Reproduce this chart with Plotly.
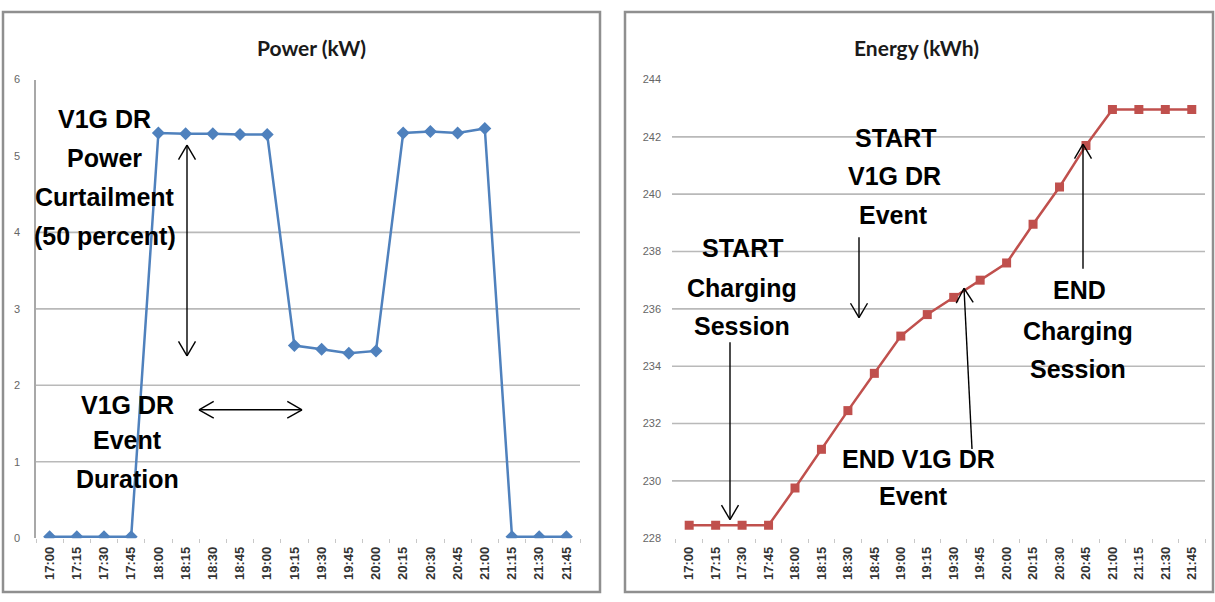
import math
import plotly.graph_objects as go

# ---------------- data ----------------
times = ["17:00", "17:15", "17:30", "17:45", "18:00", "18:15", "18:30", "18:45",
         "19:00", "19:15", "19:30", "19:45", "20:00", "20:15", "20:30", "20:45",
         "21:00", "21:15", "21:30", "21:45"]
power_kw = [0.02, 0.02, 0.02, 0.02, 5.30, 5.29, 5.29, 5.28, 5.28, 2.52, 2.47, 2.42,
            2.45, 5.30, 5.32, 5.30, 5.36, 0.02, 0.02, 0.02]
energy_kwh = [228.45, 228.45, 228.45, 228.45, 229.75, 231.10, 232.45, 233.75,
              235.05, 235.80, 236.40, 237.00, 237.60, 238.95, 240.25, 241.70,
              242.95, 242.95, 242.95, 242.95]
power_ticks = [0, 1, 2, 3, 4, 5, 6]
power_grid = [1, 2, 3, 4]
energy_ticks = [228, 230, 232, 234, 236, 238, 240, 242, 244]
energy_grid = [230, 232, 234, 236, 238, 240, 242]

W, H = 1215, 602


def px(x):
    return x / W


def py(y):
    return 1 - y / H


BLUE = "#4F81BD"
RED = "#C0504D"
GRID = "#b9b9b9"
TXT_FONT = "Liberation Sans, Arial, sans-serif"
TITLE_FONT = "Lato, sans-serif"

fig = go.Figure()
fig.add_trace(go.Scatter(x=times, y=power_kw, mode="lines+markers",
                         line=dict(color=BLUE, width=2.5),
                         marker=dict(symbol="diamond", size=10, color=BLUE),
                         xaxis="x", yaxis="y", showlegend=False))
fig.add_trace(go.Scatter(x=times, y=energy_kwh, mode="lines+markers",
                         line=dict(color=RED, width=2.5),
                         marker=dict(symbol="square", size=9, color=RED),
                         xaxis="x2", yaxis="y2", showlegend=False))

tickfont_x = dict(family=TXT_FONT, size=13, color="#333333", weight="bold")
tickfont_y = dict(family=TXT_FONT, size=11, color="#666666")

fig.update_layout(
    width=W, height=H,
    margin=dict(l=0, r=0, t=0, b=0),
    paper_bgcolor="white", plot_bgcolor="rgba(0,0,0,0)",
    xaxis=dict(domain=[px(36), px(580)], type="category", range=[-0.5, 19.5],
               showgrid=False, zeroline=False, showline=False,
               ticks="outside", ticklen=4, tickcolor="#c8c8c8", tickson="boundaries",
               tickangle=-90, tickfont=tickfont_x, ticklabelstandoff=5),
    yaxis=dict(domain=[py(543), py(75)], range=[0, 6], tickvals=power_ticks,
               showgrid=False, zeroline=False, showline=True, linecolor="#a8a8a8",
               linewidth=1.5, ticks="", tickfont=tickfont_y, ticklabelstandoff=12),
    xaxis2=dict(domain=[px(672), px(1205)], type="category", range=[-0.65, 19.5],
                anchor="y2",
                showgrid=False, zeroline=False, showline=False,
                ticks="outside", ticklen=4, tickcolor="#c8c8c8", tickson="boundaries",
                tickangle=-90, tickfont=tickfont_x, ticklabelstandoff=5),
    yaxis2=dict(domain=[py(543), py(75)], range=[228, 244], tickvals=energy_ticks,
                anchor="x2",
                showgrid=False, zeroline=False, showline=False, ticks="",
                tickfont=tickfont_y, ticklabelstandoff=10),
)

shapes = []
# panel borders
for x0, x1 in [(3, 600), (625, 1213)]:
    shapes.append(dict(type="rect", xref="paper", yref="paper",
                       x0=px(x0), x1=px(x1), y0=py(598), y1=py(6),
                       line=dict(color="#8f8f8f", width=2.5), layer="below"))
# gridlines
for v in power_grid:
    shapes.append(dict(type="line", xref="x domain", yref="y", x0=0, x1=1, y0=v, y1=v,
                       line=dict(color=GRID, width=1.6), layer="below"))
for v in energy_grid:
    shapes.append(dict(type="line", xref="x2 domain", yref="y2", x0=0, x1=1, y0=v, y1=v,
                       line=dict(color=GRID, width=1.6), layer="below"))


def arrow(x0, y0, x1, y1, both=False, arm=17, ang=30):
    """arrow from (x0,y0) to head at (x1,y1) in pixel coords"""
    out = [dict(type="line", xref="paper", yref="paper",
                x0=px(x0), y0=py(y0), x1=px(x1), y1=py(y1),
                line=dict(color="black", width=1.4))]
    heads = [(x0, y0, x1, y1)]
    if both:
        heads.append((x1, y1, x0, y0))
    for (ax, ay, hx, hy) in heads:
        d = math.atan2(ay - hy, ax - hx)
        for s in (-1, 1):
            a = d + s * math.radians(ang)
            ex, ey = hx + arm * math.cos(a), hy + arm * math.sin(a)
            out.append(dict(type="line", xref="paper", yref="paper",
                            x0=px(hx), y0=py(hy), x1=px(ex), y1=py(ey),
                            line=dict(color="black", width=1.4)))
    return out


shapes += arrow(187, 357, 187, 142, both=True)
shapes += arrow(302, 412, 199, 412, both=True)
shapes += arrow(730, 343, 730, 524)
shapes += arrow(859, 236, 859, 318)
shapes += arrow(972, 452, 964, 288)
shapes += arrow(1083, 268, 1083, 141)
fig.update_layout(shapes=shapes)

annotations = []


def label(text, x, y, size=25, family=TXT_FONT, bold=True, color="black"):
    annotations.append(dict(text=(f"<b>{text}</b>" if bold else text),
                            x=px(x), y=py(y), xref="paper", yref="paper",
                            xanchor="center", yanchor="middle", showarrow=False,
                            font=dict(family=family, size=size, color=color)))


label("Power (kW)", 311, 42, size=21, family=TITLE_FONT, bold=True, color="#1a1a1a")
label("Energy (kWh)", 916, 42, size=21, family=TITLE_FONT, bold=True, color="#1a1a1a")

for t, x, y in [("V1G DR", 104, 115), ("Power", 104, 155), ("Curtailment", 105, 195),
                ("(50 percent)", 105, 235),
                ("V1G DR", 127, 407), ("Event", 127, 443), ("Duration", 127, 483),
                ("START", 742, 247), ("Charging", 742, 288), ("Session", 742, 327),
                ("START", 895, 135), ("V1G DR", 894, 173), ("Event", 893, 213),
                ("END V1G DR", 918, 462), ("Event", 914, 500),
                ("END", 1079, 290), ("Charging", 1078, 332), ("Session", 1078, 370)]:
    label(t, x, y)

fig.update_layout(annotations=annotations)
fig.write_html("out.html", config={"displayModeBar": False},
               post_script="document.body.style.margin='0';document.body.style.overflow='hidden';")
